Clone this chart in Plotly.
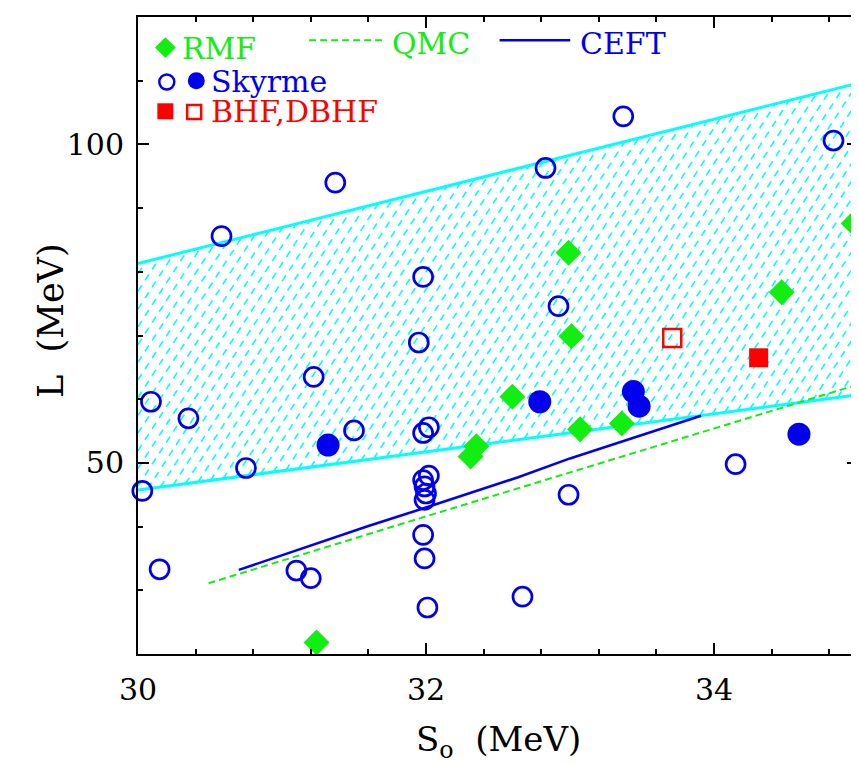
import numpy as np
import plotly.graph_objects as go

# ---------------- data ----------------
rmf_x = [32.99, 34.97, 34.47, 33.01, 32.60, 33.07, 33.36, 32.35, 32.31, 31.24]
rmf_L = [83.0, 87.6, 76.8, 69.9, 60.4, 55.3, 56.2, 52.6, 51.0, 21.8]

sky_open_x = [33.37, 34.83, 32.83, 31.37, 30.58, 31.98, 32.92, 31.95, 31.22, 30.09,
              30.35, 31.50, 32.02, 31.98, 30.75, 34.15, 30.03, 32.02, 31.98, 31.99,
              32.00, 31.99, 32.99, 31.98, 31.99, 32.01, 30.15, 31.10, 31.20, 32.67]
sky_open_L = [104.4, 100.6, 96.3, 94.0, 85.6, 79.2, 74.6, 68.9, 63.5, 59.6,
              57.0, 55.1, 55.6, 54.7, 49.2, 49.8, 45.6, 48.0, 47.3, 46.3,
              45.2, 44.2, 45.0, 38.7, 35.0, 27.3, 33.3, 33.1, 31.9, 29.0]

sky_fill_x = [33.44, 33.48, 32.79, 31.32, 34.59]
sky_fill_L = [61.2, 58.9, 59.6, 52.8, 54.5]

bhf_x = [34.31]
bhf_L = [66.5]
dbhf_x = [33.71]
dbhf_L = [69.6]

band_x = [30.0, 35.0]
band_upper = [81.3, 109.6]
band_lower = [45.75, 60.7]

ceft_x = [30.70, 31.60, 32.00, 32.64, 33.00, 33.91]
ceft_L = [33.2, 40.1, 43.0, 47.75, 50.7, 57.4]

qmc_x = [30.49, 32.00, 35.00]
qmc_L = [31.1, 41.6, 62.3]

x_ticks = [30, 32, 34]
y_ticks = [50, 100]

# ---------------- styles ----------------
BLUE = "#0000EE"
GREEN = "#11EE11"
RED = "#FF0000"
CYAN = "#00FFFF"
FONT = "DejaVu Serif"
X_RANGE = [30, 35]
Y_RANGE = [20, 120]
W, H = 859, 764
ML, MR, MT, MB = 130, 7, 9, 118

fig = go.Figure()

# ---- hatch of the band: dashed diagonal strokes clipped between band edges ----
pw = W - ML - MR
ph = H - MT - MB
px_per_x = pw / (X_RANGE[1] - X_RANGE[0])
px_per_y = ph / (Y_RANGE[1] - Y_RANGE[0])
ang = np.deg2rad(57)
m = np.tan(ang) * px_per_x / px_per_y          # data slope of hatch strokes
x0b, x1b = band_x
b_lo = (band_lower[1] - band_lower[0]) / (x1b - x0b)
b_up = (band_upper[1] - band_upper[0]) / (x1b - x0b)
step_c = m * (11.5 / px_per_x)
hx, hy = [], []
c = band_lower[0] - m * (x1b - x0b)
while c < band_upper[0]:
    xs = x0b + (band_lower[0] - c) / (m - b_lo)
    xe = x0b + (band_upper[0] - c) / (m - b_up)
    xs, xe = max(xs, x0b), min(xe, x1b)
    if xs < xe:
        hx += [xs, xe, None]
        hy += [c + m * (xs - x0b), c + m * (xe - x0b), None]
    c += step_c
fig.add_trace(go.Scatter(x=hx, y=hy, mode="lines",
                         line=dict(color=CYAN, width=1.6, dash="7px,6px"),
                         showlegend=False, hoverinfo="skip"))

# band edges
fig.add_trace(go.Scatter(x=band_x, y=band_lower, mode="lines",
                         line=dict(color=CYAN, width=3), showlegend=False))
fig.add_trace(go.Scatter(x=band_x, y=band_upper, mode="lines",
                         line=dict(color=CYAN, width=3), showlegend=False))

# lines
fig.add_trace(go.Scatter(x=qmc_x, y=qmc_L, mode="lines",
                         line=dict(color=GREEN, width=2, dash="7px,4px"), showlegend=False))
fig.add_trace(go.Scatter(x=ceft_x, y=ceft_L, mode="lines",
                         line=dict(color=BLUE, width=2.5), showlegend=False))

# markers
fig.add_trace(go.Scatter(x=sky_open_x, y=sky_open_L, mode="markers",
                         marker=dict(symbol="circle-open", size=19, color=BLUE,
                                     line=dict(width=2.7, color=BLUE)),
                         showlegend=False, cliponaxis=False))
fig.add_trace(go.Scatter(x=sky_fill_x, y=sky_fill_L, mode="markers",
                         marker=dict(symbol="circle", size=23, color=BLUE),
                         showlegend=False, cliponaxis=False))
fig.add_trace(go.Scatter(x=rmf_x, y=rmf_L, mode="markers",
                         marker=dict(symbol="diamond", size=20, color=GREEN),
                         showlegend=False, cliponaxis=False))
fig.add_trace(go.Scatter(x=dbhf_x, y=dbhf_L, mode="markers",
                         marker=dict(symbol="square-open", size=18, color=RED,
                                     line=dict(width=2.5, color=RED)),
                         showlegend=False))
fig.add_trace(go.Scatter(x=bhf_x, y=bhf_L, mode="markers",
                         marker=dict(symbol="square", size=19, color=RED),
                         showlegend=False))

# ---------------- custom legend (overlay axes in plot fraction) ----------------
def lg(x, y, sym, size, color, lw=0):
    fig.add_trace(go.Scatter(x=[x], y=[y], mode="markers", xaxis="x2", yaxis="y2",
                             marker=dict(symbol=sym, size=size, color=color,
                                         line=dict(width=lw, color=color)),
                             showlegend=False, cliponaxis=False, hoverinfo="skip"))

lg(0.038, 0.952, "diamond", 16, GREEN)
lg(0.040, 0.898, "circle-open", 15, BLUE, 2.5)
lg(0.081, 0.900, "circle", 17, BLUE)
lg(0.038, 0.852, "square", 16, RED)
lg(0.078, 0.851, "square-open", 14, RED, 2.5)

fig.add_trace(go.Scatter(x=[0.2377, 0.3389], y=[0.9634, 0.9634], mode="lines",
                         xaxis="x2", yaxis="y2",
                         line=dict(color=GREEN, width=2, dash="7px,4px"),
                         showlegend=False, hoverinfo="skip"))
fig.add_trace(go.Scatter(x=[0.5022, 0.6003], y=[0.9634, 0.9634], mode="lines",
                         xaxis="x2", yaxis="y2",
                         line=dict(color=BLUE, width=2.5),
                         showlegend=False, hoverinfo="skip"))

legend_texts = [
    ("RMF", 0.058, 0.950, GREEN),
    ("QMC", 0.350, 0.958, GREEN),
    ("CEFT", 0.611, 0.958, BLUE),
    ("Skyrme", 0.098, 0.8995, BLUE),
    ("BHF,DBHF", 0.098, 0.851, RED),
]
annotations = []
for t, x, y, col in legend_texts:
    annotations.append(dict(text=t, x=x, y=y, xref="paper", yref="paper",
                            xanchor="left", yanchor="middle", showarrow=False,
                            font=dict(family=FONT, size=30, color=col)))

# axis titles
annotations.append(dict(text="S<sub>o</sub>\u00a0\u00a0(MeV)", x=0.5, y=-0.137,
                        xref="paper", yref="paper", xanchor="center", yanchor="middle",
                        showarrow=False, font=dict(family=FONT, size=34, color="black")))
annotations.append(dict(text="L\u00a0\u00a0(MeV)", x=-0.121, y=0.524, textangle=-90,
                        xref="paper", yref="paper", xanchor="center", yanchor="middle",
                        showarrow=False, font=dict(family=FONT, size=35, color="black")))

axis_common = dict(showline=True, linecolor="black", linewidth=2, mirror="ticks",
                   ticks="inside", ticklen=11, tickwidth=2, tickcolor="black",
                   showgrid=False, zeroline=False,
                   tickfont=dict(family=FONT, size=30, color="black"))

fig.update_layout(
    width=W, height=H,
    margin=dict(l=ML, r=MR, t=MT, b=MB),
    paper_bgcolor="white", plot_bgcolor="white",
    xaxis=dict(range=X_RANGE, tickvals=x_ticks, ticklabelstandoff=8,
               minor=dict(dtick=0.4, tick0=30, ticks="inside", ticklen=5,
                          tickwidth=1.5, tickcolor="black", showgrid=False),
               **axis_common),
    yaxis=dict(range=Y_RANGE, tickvals=y_ticks, ticklabelstandoff=6,
               minor=dict(dtick=10, tick0=20, ticks="inside", ticklen=5,
                          tickwidth=1.5, tickcolor="black", showgrid=False),
               **axis_common),
    xaxis2=dict(overlaying="x", range=[0, 1], visible=False),
    yaxis2=dict(overlaying="y", range=[0, 1], visible=False),
    annotations=annotations,
    showlegend=False,
)

fig.write_html("out.html")
